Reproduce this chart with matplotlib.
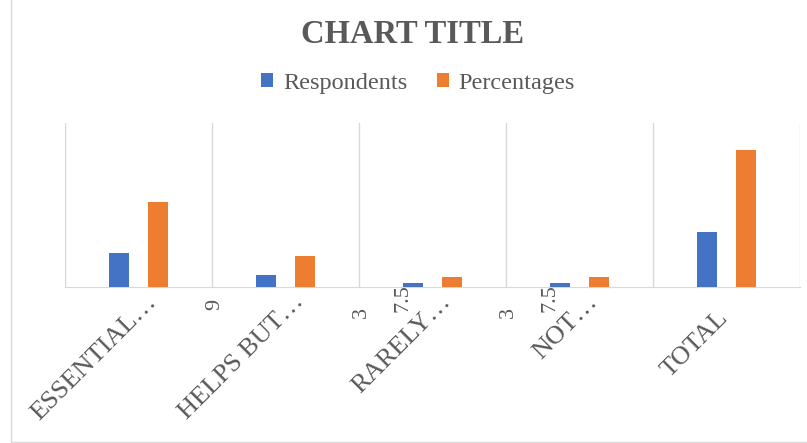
import numpy as np
import matplotlib
matplotlib.use('Agg')
import matplotlib.pyplot as plt
from matplotlib.patches import Rectangle
from matplotlib.ticker import FixedLocator
import matplotlib.transforms as mtransforms

plt.rcParams['font.family'] = ['Liberation Serif', 'DejaVu Serif']

# data
categories = ['ESSENTIAL…', 'HELPS BUT…', 'RARELY…', 'NOT…', 'TOTAL']
respondents = [25, 9, 3, 3, 40]
percentages = [62.5, 22.5, 7.5, 7.5, 100]
# only some data labels are visible in the original
resp_labels = [None, '9', '3', '3', None]
pct_labels = [None, None, '7.5', '7.5', None]

blue = '#4472C4'
orange = '#ED7D31'
grey = '#595959'
light = '#D9D9D9'

W, H = 807, 443
fig = plt.figure(figsize=(W / 100, H / 100), dpi=100)
ax = fig.add_axes([65 / W, 1 - 287 / H, 735 / W, 164 / H])

x = np.arange(len(categories))
bw = 0.137
ax.bar(x - 0.13, respondents, bw, color=blue, label='Respondents', zorder=3)
ax.bar(x + 0.13, percentages, bw, color=orange, label='Percentages', zorder=3)

ax.set_xlim(-0.5, len(categories) - 0.5)
ax.set_ylim(0, 120)

# category separators
ax.xaxis.set_minor_locator(FixedLocator(np.arange(-0.5, len(categories), 1)))
ax.grid(which='minor', axis='x', color=light, lw=1, zorder=0)
ax.tick_params(which='both', length=0)
ax.set_yticks([])
for s in ['left', 'top', 'right']:
    ax.spines[s].set_visible(False)
ax.spines['bottom'].set_color(light)

ax.set_xticks(x)
ax.set_xticklabels(categories, rotation=45, ha='right', va='top',
                   rotation_mode='anchor', fontsize=19, color=grey)
ax.tick_params(axis='x', pad=14)
# truncated labels sit a bit further up/right than the full one
for lbl in ax.get_xticklabels():
    if lbl.get_text().endswith('…'):
        dx, dy = 7, 16
    else:
        dx, dy = -10, 0
    shift = mtransforms.ScaledTranslation(dx / 100, dy / 100, fig.dpi_scale_trans)
    lbl.set_transform(lbl.get_transform() + shift)

# stray data labels
for i in range(len(categories)):
    if resp_labels[i]:
        ax.annotate(resp_labels[i], (x[i] - 0.13, respondents[i]),
                    xytext=(-52, -30), textcoords='offset pixels',
                    rotation=90, ha='center', va='center',
                    fontsize=16, color=grey)
    if pct_labels[i]:
        ax.annotate(pct_labels[i], (x[i] + 0.13, percentages[i]),
                    xytext=(-49, -21), textcoords='offset pixels',
                    rotation=90, ha='center', va='center',
                    fontsize=16, color=grey)

fig.text(413 / W, 1 - 43 / H, 'CHART TITLE', ha='center', va='baseline',
         fontsize=23.5, fontweight='bold', color=grey)

fig.legend(loc='center', bbox_to_anchor=(418 / W, 1 - 83 / H), ncol=2,
           frameon=False, fontsize=17.5, labelcolor=grey,
           handlelength=0.5, handleheight=0.5, handletextpad=0.4,
           columnspacing=1.2)

# chart border (only left and bottom edges fall inside the image)
fig.add_artist(Rectangle((11 / W, 1.5 / H), 1, 1, fill=False,
                         edgecolor=light, lw=1, transform=fig.transFigure))

fig.savefig('out.png', dpi=100)
